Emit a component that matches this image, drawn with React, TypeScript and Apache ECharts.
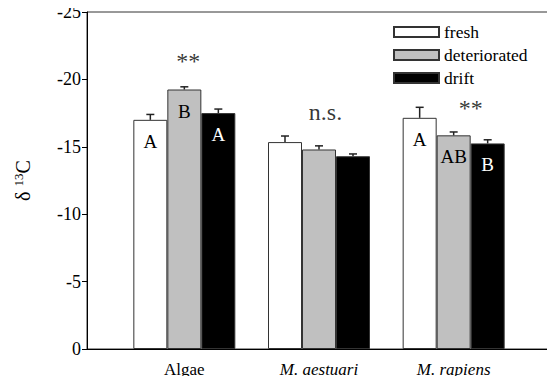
import React, { useEffect, useRef } from 'react';
import * as echarts from 'echarts';

const categories = ['Algae', 'M. aestuari', 'M. rapiens'];
const seriesNames = ['fresh', 'deteriorated', 'drift'];
const fresh = [-17.0, -15.35, -17.15];
const deteriorated = [-19.25, -14.8, -15.85];
const drift = [-17.5, -14.3, -15.25];
const freshErr = [0.4, 0.45, 0.78];
const deterioratedErr = [0.2, 0.27, 0.25];
const driftErr = [0.3, 0.17, 0.27];
const freshLetters = ['A', '', 'A'];
const deterioratedLetters = ['B', '', 'AB'];
const driftLetters = ['A', '', 'B'];
const significance = ['**', 'n.s.', '**'];
const significanceY = [-21.35, -17.6, -17.9];
const significanceDx = [4, 6.5, 17];

const FONT = 'Liberation Serif';
const BAR_W = 34;

export default function App() {
  const ref = useRef<HTMLDivElement>(null);
  useEffect(() => {
    if (!ref.current) return;
    const chart = echarts.init(ref.current, undefined, { renderer: 'svg' });
    const values = [fresh, deteriorated, drift];
    const errs = [freshErr, deterioratedErr, driftErr];
    const letters = [freshLetters, deterioratedLetters, driftLetters];
    const fills = ['#ffffff', '#c0c0c0', '#000000'];
    const letterColors = ['#000', '#000', '#fff'];

    const barSeries = seriesNames.map((name, k) => ({
      name,
      type: 'bar',
      xAxisIndex: 1,
      yAxisIndex: 1,
      barWidth: BAR_W,
      barGap: '0%',
      data: values[k],
      itemStyle: { color: fills[k], borderColor: '#333', borderWidth: 1 },
      label: {
        show: true,
        position: 'insideTop',
        distance: 12,
        fontFamily: FONT,
        fontSize: 19,
        color: letterColors[k],
        formatter: (p: any) => letters[k][p.dataIndex],
      },
      z: 2,
    }));

    const errData: number[][] = [];
    values.forEach((arr, k) => arr.forEach((v, i) => errData.push([i, v, errs[k][i], k])));

    const option: any = {
      animation: false,
      backgroundColor: '#fff',
      textStyle: { fontFamily: FONT },
      grid: [
        { left: 87, right: 2, top: 12, bottom: 35, show: true, borderColor: '#333', borderWidth: 1 },
        { left: 117, width: 404, top: 12, bottom: 35 },
      ],
      legend: {
        data: seriesNames,
        orient: 'vertical',
        left: 393,
        top: 23,
        padding: 0,
        icon: 'rect',
        itemWidth: 45,
        itemHeight: 10,
        itemGap: 5,
        textStyle: { fontFamily: FONT, fontSize: 17.5, color: '#000' },
      },
      xAxis: [
        {
          type: 'value', gridIndex: 0, min: 0, max: 1,
          axisLine: { show: true, lineStyle: { color: '#000', width: 1 } },
          axisTick: { show: false }, axisLabel: { show: false }, splitLine: { show: false },
        },
        {
          type: 'category', gridIndex: 1, data: categories,
          axisLine: { show: false }, axisTick: { show: false }, splitLine: { show: false },
          axisLabel: {
            margin: 12,
            fontFamily: FONT,
            fontSize: 17,
            color: '#000',
            formatter: (v: string) => (v.startsWith('M.') ? `{i|${v}}` : `{n|${v}}`),
            rich: {
              i: { fontFamily: FONT, fontSize: 17, fontStyle: 'italic', color: '#000' },
              n: { fontFamily: FONT, fontSize: 17, color: '#000' },
            },
          },
        },
      ],
      yAxis: [
        {
          type: 'value', gridIndex: 0, min: -25, max: 0, interval: 5, inverse: true,
          axisLine: { show: true, lineStyle: { color: '#000', width: 1 } },
          axisTick: { show: true, length: 5, lineStyle: { color: '#000' } },
          axisLabel: { fontFamily: FONT, fontSize: 18, color: '#000', margin: 6 },
          splitLine: { show: false },
          name: '{a|δ }{b|13}{c|C}',
          nameLocation: 'middle',
          nameRotate: 90,
          nameGap: 53,
          nameTextStyle: {
            rich: {
              a: { fontFamily: FONT, fontSize: 20, color: '#000' },
              b: { fontFamily: FONT, fontSize: 13, color: '#000', padding: [0, 0, 9, 0] },
              c: { fontFamily: FONT, fontSize: 20, color: '#000' },
            },
          },
        },
        {
          type: 'value', gridIndex: 1, min: -25, max: 0, interval: 5, inverse: true, show: false,
        },
      ],
      series: [
        ...barSeries,
        {
          type: 'custom',
          xAxisIndex: 1,
          yAxisIndex: 1,
          z: 3,
          silent: true,
          data: errData,
          renderItem: (params: any, api: any) => {
            const cat = api.value(0);
            const val = api.value(1);
            const err = api.value(2);
            const k = api.value(3);
            const base = api.coord([cat, val]);
            const top = api.coord([cat, val - err]);
            const x = base[0] + (k - 1) * BAR_W;
            const st = { stroke: '#222', lineWidth: 1.5 };
            return {
              type: 'group',
              children: [
                { type: 'line', shape: { x1: x, y1: base[1], x2: x, y2: top[1] }, style: st },
                { type: 'line', shape: { x1: x - 4, y1: top[1], x2: x + 4, y2: top[1] }, style: st },
              ],
            };
          },
        },
        {
          type: 'scatter',
          xAxisIndex: 1,
          yAxisIndex: 1,
          symbolSize: 1,
          itemStyle: { color: 'rgba(0,0,0,0)' },
          silent: true,
          z: 4,
          data: significance.map((s, i) => ({
            value: [i, significanceY[i]],
            label: { offset: [significanceDx[i], 0] },
          })),
          label: {
            show: true,
            position: 'inside',
            fontFamily: FONT,
            fontSize: 24,
            color: '#000',
            formatter: (p: any) => significance[p.dataIndex],
          },
        },
      ],
    };
    chart.setOption(option);
    return () => chart.dispose();
  }, []);
  return <div ref={ref} style={{ width: 555, height: 384, margin: -8 }} />;
}
